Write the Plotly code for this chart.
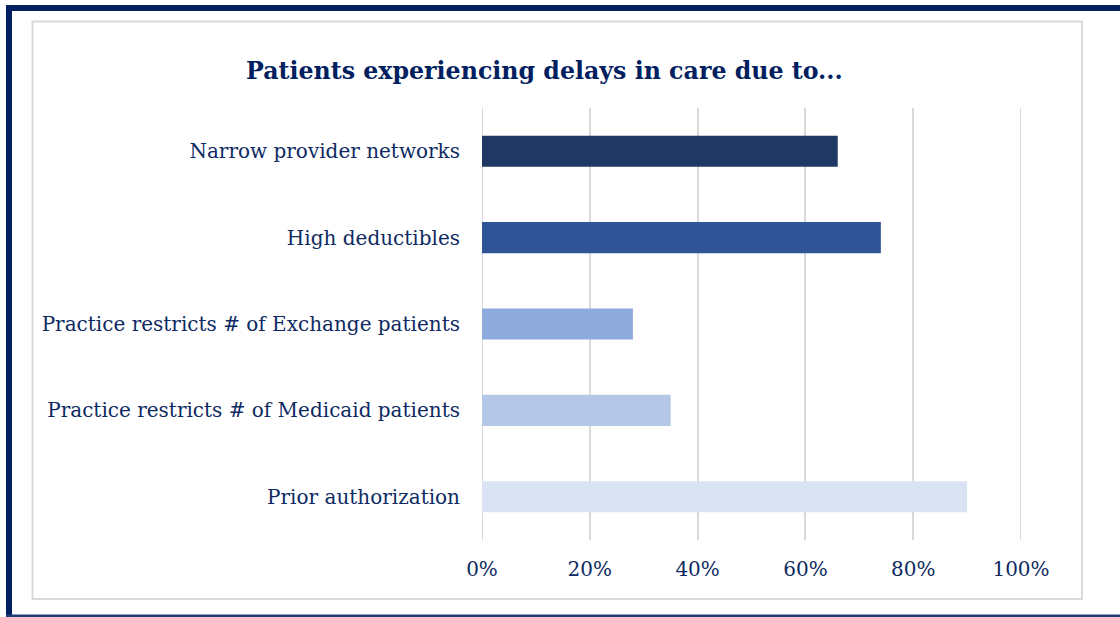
import plotly.graph_objects as go

categories = [
    "Prior authorization",
    "Practice restricts # of Medicaid patients",
    "Practice restricts # of Exchange patients",
    "High deductibles",
    "Narrow provider networks",
]
values = [0.90, 0.35, 0.28, 0.74, 0.66]
bar_colors = ["#DAE3F3", "#B4C7E7", "#8FAADC", "#2F5597", "#203864"]
x_ticks = [0, 0.2, 0.4, 0.6, 0.8, 1.0]
x_tick_labels = ["0%", "20%", "40%", "60%", "80%", "100%"]
title_text = "Patients experiencing delays in care due to..."

W, H = 1120, 617
L, R, T, B = 482, 1021, 108, 540
navy = "#002060"
text_color = "#0E2A62"
grid_color = "#D9D9D9"
font_family = "DejaVu Serif, serif"

def px(x):
    return (x - L) / (R - L)

def py(y):
    return (B - y) / (B - T)

fig = go.Figure(go.Bar(
    y=categories, x=values, orientation="h",
    marker=dict(color=bar_colors, line=dict(width=0)),
    width=0.36, hoverinfo="skip",
))

shapes = [
    # outer navy frame
    dict(type="rect", xref="paper", yref="paper", x0=px(6), x1=px(12), y0=py(617), y1=py(5),
         fillcolor=navy, line=dict(width=0), layer="above"),
    dict(type="rect", xref="paper", yref="paper", x0=px(6), x1=px(1120), y0=py(11), y1=py(5),
         fillcolor=navy, line=dict(width=0), layer="above"),
    dict(type="rect", xref="paper", yref="paper", x0=px(6), x1=px(1120), y0=py(617), y1=py(614.5),
         fillcolor="#1F3F7A", line=dict(width=0), layer="above"),
    # inner grey chart frame
    dict(type="rect", xref="paper", yref="paper", x0=px(32.5), x1=px(1082), y0=py(599), y1=py(21.5),
         fillcolor="rgba(0,0,0,0)", line=dict(color=grid_color, width=2), layer="below"),
]
# gridlines at the ends of the value axis
for xv in (x_ticks[0], x_ticks[-1]):
    shapes.append(dict(type="line", xref="x", yref="paper", x0=xv, x1=xv, y0=0, y1=1,
                       line=dict(color=grid_color, width=2), layer="below"))

fig.update_layout(
    width=W, height=H,
    margin=dict(l=L, r=W - R, t=T, b=H - B, pad=0),
    paper_bgcolor="white", plot_bgcolor="white",
    showlegend=False,
    font=dict(family=font_family, color=text_color, size=20),
    shapes=shapes,
    annotations=[dict(
        text="<b>" + title_text + "</b>", xref="paper", yref="paper",
        x=px(544), y=py(71), xanchor="center", yanchor="middle", showarrow=False,
        font=dict(family=font_family, size=23.7, color=navy),
    )],
    bargap=0.64,
)
fig.update_xaxes(
    range=[0, 1.0], tickvals=x_ticks, ticktext=x_tick_labels,
    showgrid=True, gridcolor=grid_color, gridwidth=2,
    zeroline=False, showline=False,
    ticks="outside", ticklen=11, tickcolor="rgba(0,0,0,0)",
    tickfont=dict(size=20, color=text_color),
)
fig.update_yaxes(
    categoryorder="array", categoryarray=categories,
    showgrid=False, zeroline=False, showline=False,
    ticks="outside", ticklen=17, tickcolor="rgba(0,0,0,0)",
    tickfont=dict(size=20, color=text_color),
)

fig.write_html(
    "out.html",
    config={"displayModeBar": False, "staticPlot": True},
    post_script="document.body.style.margin='0';document.body.style.overflow='hidden';",
)
